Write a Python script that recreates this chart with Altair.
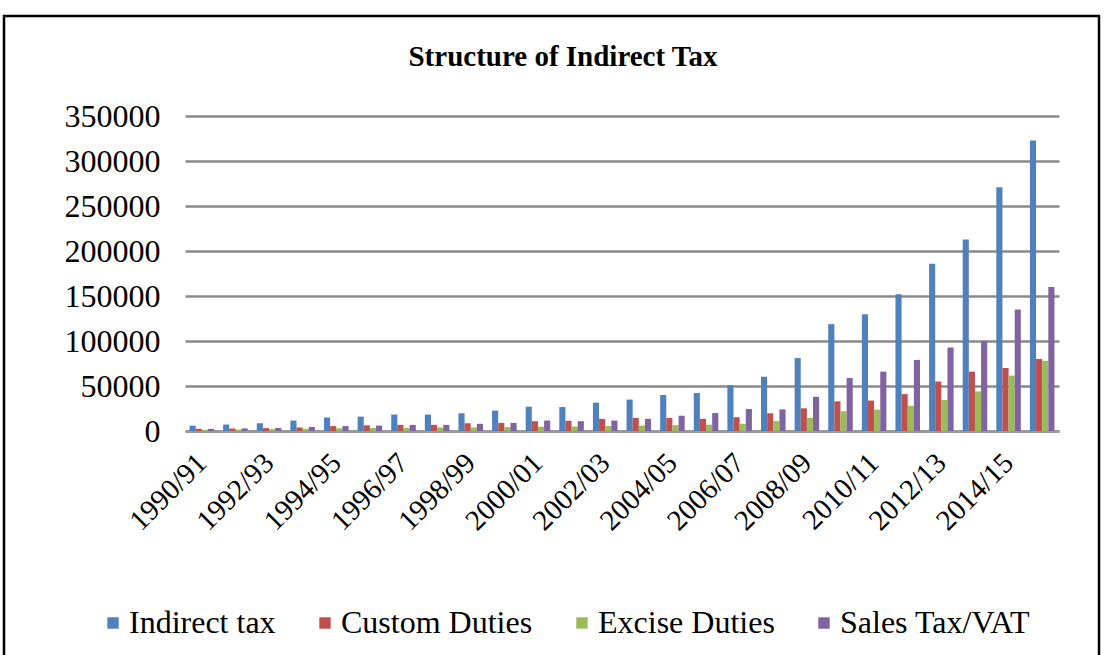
import altair as alt
import pandas as pd

years = ["1990/91", "1991/92", "1992/93", "1993/94", "1994/95", "1995/96", "1996/97",
         "1997/98", "1998/99", "1999/00", "2000/01", "2001/02", "2002/03", "2003/04",
         "2004/05", "2005/06", "2006/07", "2007/08", "2008/09", "2009/10", "2010/11",
         "2011/12", "2012/13", "2013/14", "2014/15", "2015/16"]

indirect = [6000, 7200, 8600, 11600, 15000, 16000, 18300, 18300, 19700, 22700, 27000,
            26600, 31500, 34900, 40000, 42300, 51000, 60300, 81000, 118700, 129700,
            151900, 185700, 212800, 270700, 322700]
custom = [2500, 2800, 3200, 4000, 5500, 6300, 6800, 6800, 8600, 9000, 10900, 11300,
          13500, 14600, 14600, 13500, 15300, 19700, 25200, 33000, 33800, 41000, 55000,
          66000, 70000, 80000]
excise = [1300, 1600, 1900, 2400, 3000, 3300, 3600, 3800, 4000, 4300, 4800, 5000, 5500,
          6000, 6500, 7000, 8000, 11000, 14600, 22000, 23800, 28000, 34500, 44000, 61500,
          78000]
sales = [2300, 2900, 3400, 4500, 5500, 6000, 6800, 6800, 8000, 9000, 11600, 10900, 11600,
         13500, 17000, 20000, 24500, 24000, 38000, 58900, 66000, 79000, 92800, 100000,
         135000, 160000]

series_names = ["Indirect tax", "Custom Duties", "Excise Duties", "Sales Tax/VAT"]
series_colors = ["#4F81BD", "#C0504D", "#9BBB59", "#8064A2"]
y_ticks = [0, 50000, 100000, 150000, 200000, 250000, 300000, 350000]
x_label_years = years[::2]
title_text = "Structure of Indirect Tax"

rows = []
for name, vals in zip(series_names, [indirect, custom, excise, sales]):
    for yr, v in zip(years, vals):
        rows.append({"year": yr, "series": name, "value": v})
df = pd.DataFrame(rows)

FONT = "Liberation Serif"

bars = alt.Chart(df).mark_bar().encode(
    x=alt.X("year:N", sort=years,
            scale=alt.Scale(paddingInner=0.27, paddingOuter=0.135),
            axis=alt.Axis(title=None, values=x_label_years, labelAngle=-45,
                          labelAlign="right", labelBaseline="middle",
                          labelFont=FONT, labelFontSize=29, labelColor="black",
                          labelPadding=27, ticks=False, domain=True,
                          domainColor="#9a9a9a", domainWidth=3, grid=False,
                          labelOverlap=False)),
    xOffset=alt.XOffset("series:N", sort=series_names,
                        scale=alt.Scale(paddingInner=0, paddingOuter=0)),
    y=alt.Y("value:Q", scale=alt.Scale(domain=[0, 350000], nice=False),
            axis=alt.Axis(title=None, values=y_ticks, format="d", grid=True,
                          gridColor="#8a8a8a", gridWidth=2.5, domain=False,
                          ticks=False, labelFont=FONT, labelFontSize=32,
                          labelColor="black", labelPadding=25)),
    color=alt.Color("series:N", sort=series_names,
                    scale=alt.Scale(domain=series_names, range=series_colors),
                    legend=alt.Legend(title=None, orient="none", direction="horizontal",
                                      legendX=-88, legendY=491, symbolType="square",
                                      symbolSize=130, symbolStrokeWidth=0,
                                      labelFont=FONT, labelFontSize=32,
                                      labelColor="black", labelOffset=0,
                                      labelLimit=0, columnPadding=33)),
)

frame = alt.Chart(pd.DataFrame({"a": [0]})).mark_rect(
    filled=False, stroke="black", strokeWidth=2.5
).encode(
    x=alt.value(-181), x2=alt.value(914), y=alt.value(-100), y2=alt.value(600)
)

title = alt.Chart(pd.DataFrame({"t": [title_text]})).mark_text(
    font=FONT, fontSize=29, fontWeight="bold", color="black",
    align="center", baseline="middle"
).encode(
    text="t:N", x=alt.value(378), y=alt.value(-59)
)

chart = alt.layer(bars, frame, title).properties(
    width=874, height=315,
    padding={"left": 185, "top": 116, "right": 46, "bottom": 224},
    autosize=alt.AutoSizeParams(type="none"),
    background="white",
).configure_view(stroke=None)

chart.save("out.html", embed_options={"renderer": "svg", "actions": False})
